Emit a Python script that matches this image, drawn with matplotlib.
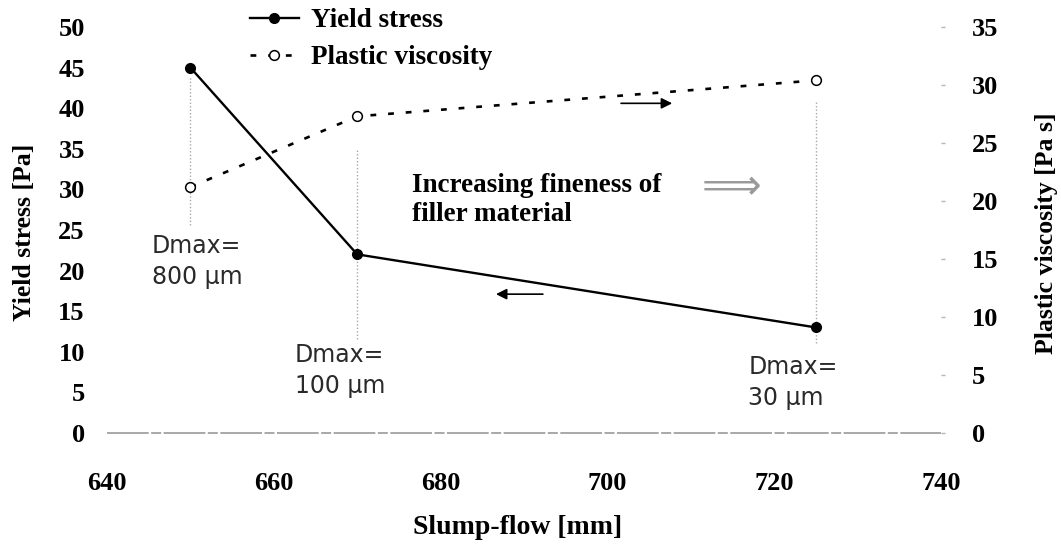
import matplotlib
matplotlib.use("Agg")
import matplotlib.pyplot as plt

plt.rcParams.update({"font.family": "Liberation Serif", "font.size": 19, "font.weight": "bold"})

# data
slump = [650, 670, 725]
yield_stress = [45, 22, 13]
viscosity = [21.2, 27.3, 30.4]
dmax_labels = ["Dmax=\n800 \u03bcm", "Dmax=\n100 \u03bcm", "Dmax=\n30 \u03bcm"]
x_ticks = [640, 660, 680, 700, 720, 740]
y_ticks = list(range(0, 55, 5))
y2_ticks = list(range(0, 40, 5))

fig = plt.figure(figsize=(10.61, 5.45), dpi=100)
ax = fig.add_axes([107/1061, 1-433/545, 834/1061, 406/545])
ax2 = ax.twinx()

for a in (ax, ax2):
    for s in a.spines.values():
        s.set_visible(False)

# guide lines from the points down to the Dmax labels
guide_top = [43.8, 34.9, 40.8]
guide_bot = [25.6, 11.6, 11.1]
ax.vlines(slump, guide_bot, guide_top, colors="#a8a8a8", linestyles=(0, (1, 1.5)), lw=1)

l1, = ax.plot(slump, yield_stress, color="black", lw=1.7, marker="o", ms=7, label="Yield stress", zorder=3)
l2, = ax2.plot(slump, viscosity, color="black", lw=1.9, ls=(0, (2.2, 4.5)), marker="o", ms=7,
               mfc="white", mew=1.1, label="Plastic viscosity", zorder=3)

ax.axhline(0, color="#9a9a9a", lw=1.2, ls=(0, (25, 1.5, 6, 1.5)), clip_on=False)

ax.set_xlim(640, 740); ax.set_ylim(0, 50); ax2.set_ylim(0, 35)
ax.set_xticks(x_ticks); ax.set_yticks(y_ticks); ax2.set_yticks(y2_ticks)
ax.tick_params(axis="x", length=0, pad=28, labelsize=19)
ax.tick_params(axis="y", length=0, pad=16, labelsize=19)
ax2.tick_params(axis="y", length=3, width=1, color="#b5b5b5", pad=19, labelsize=19)

# Dmax annotations
dmax_x = [645.4, 662.5, 716.9]
dmax_y = [21.1, 7.7, 6.2]
for xx, yy, t in zip(dmax_x, dmax_y, dmax_labels):
    ax.text(xx, yy, t, ha="left", va="center", fontsize=17, fontweight="normal",
            family="DejaVu Sans", color="#2a2a2a", linespacing=1.4)

ax.text(676.6, 28.7, "Increasing fineness of\nfiller material", ha="left", va="center",
        fontsize=19.5, linespacing=1.25)
ax.text(711.3, 30.3, "\u27f9", ha="left", va="center", fontsize=30, family="DejaVu Sans",
        color="#9a9a9a", fontweight="normal")

# direction arrows
ax.annotate("", xy=(708.1, 40.6), xytext=(701.3, 40.6),
            arrowprops=dict(arrowstyle="-|>", color="black", lw=1.2, mutation_scale=16))
ax.annotate("", xy=(686.3, 17.1), xytext=(692.6, 17.1),
            arrowprops=dict(arrowstyle="-|>", color="black", lw=1.2, mutation_scale=16))

fig.legend(handles=[l1, l2], loc="upper left", bbox_to_anchor=(250/1061, 1-8/545),
           frameon=False, borderpad=0, borderaxespad=0, handlelength=1.8,
           handletextpad=0.45, labelspacing=0.45, fontsize=19.5)

fig.text(25/1061, 1-232/545, "Yield stress [Pa]", rotation=90, ha="center", va="center", fontsize=18.5)
fig.text(1046/1061, 1-233/545, "Plastic viscosity [Pa s]", rotation=90, ha="center", va="center", fontsize=18.5)
fig.text(518/1061, 1-527/545, "Slump-flow [mm]", ha="center", va="center", fontsize=20)

fig.savefig("out.png", dpi=100, facecolor="white")
